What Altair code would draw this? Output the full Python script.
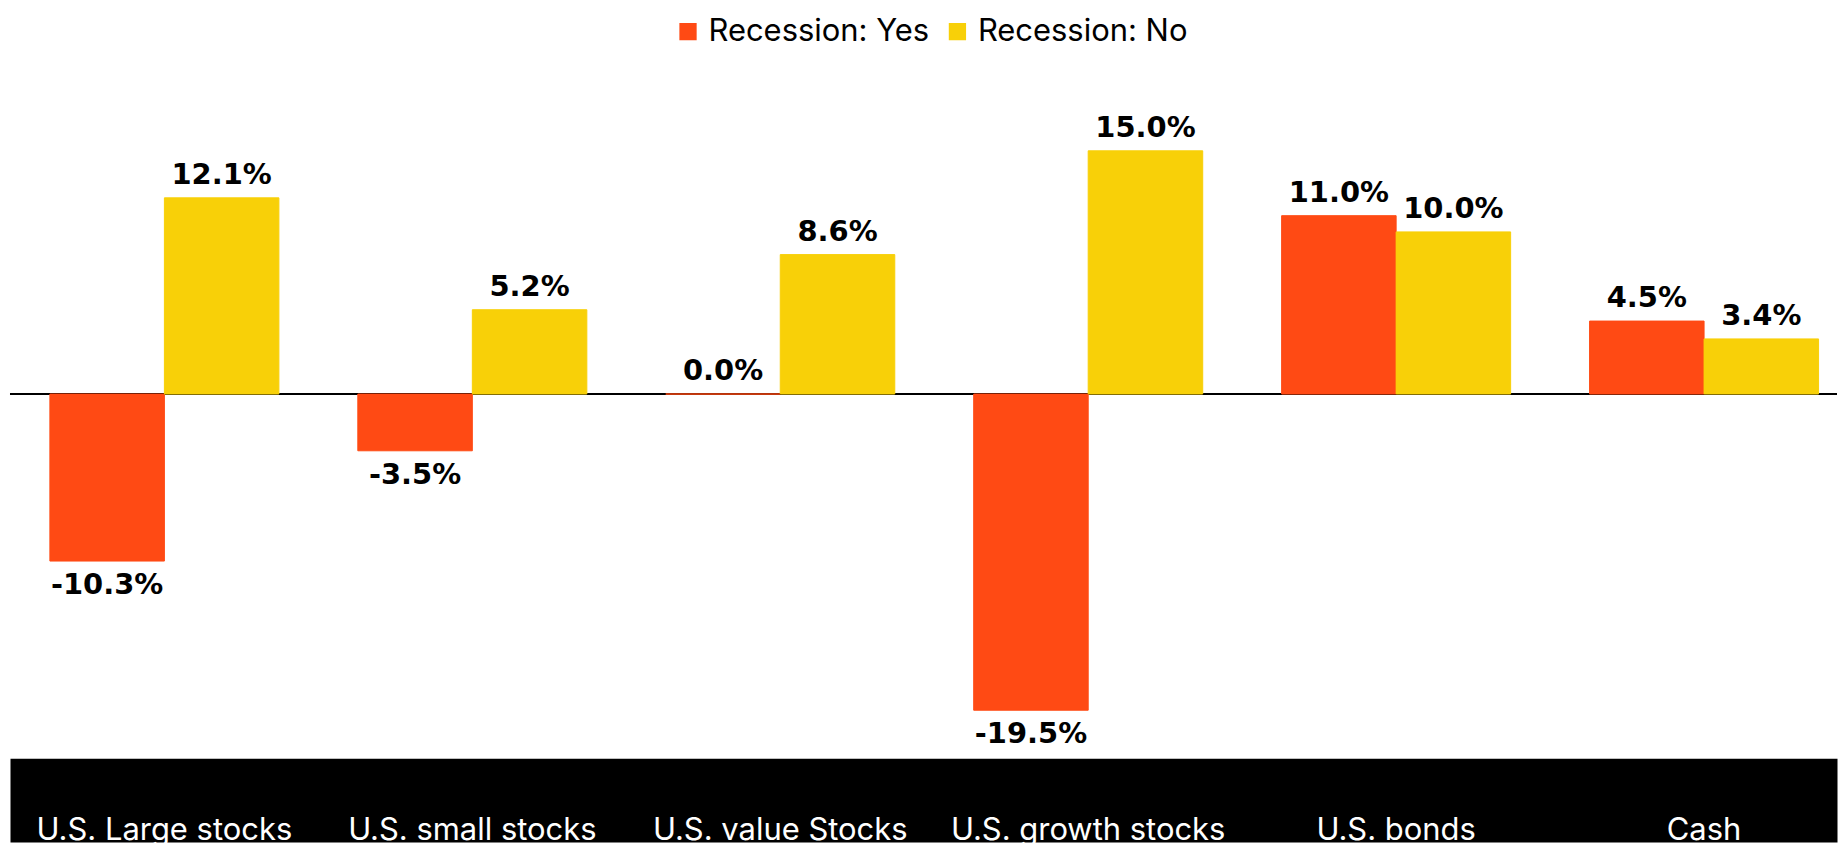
import altair as alt
import pandas as pd

categories = ["U.S. Large stocks", "U.S. small stocks", "U.S. value Stocks",
              "U.S. growth stocks", "U.S. bonds", "Cash"]
series = ["Recession: Yes", "Recession: No"]
recession_yes = [-10.3, -3.5, 0.0, -19.5, 11.0, 4.5]
recession_no = [12.1, 5.2, 8.6, 15.0, 10.0, 3.4]
colors = ["#FF4A14", "#F8D008"]

rows = []
for c, vy, vn in zip(categories, recession_yes, recession_no):
    rows.append({"category": c, "series": series[0], "value": vy, "label": f"{vy:.1f}%"})
    rows.append({"category": c, "series": series[1], "value": vn, "label": f"{vn:.1f}%"})
df = pd.DataFrame(rows)
cat_df = pd.DataFrame({"category": categories})
zero_df = pd.DataFrame({"value": [0.0]})

W = 1831
x_scale = alt.Scale(type="band", paddingInner=0.2563, paddingOuter=0.0947, align=0.684)
y_scale = alt.Scale(domain=[-22.34, 23.69], nice=False, zero=False)

x_enc = alt.X("category:N", sort=categories, axis=None, scale=x_scale)
xo_enc = alt.XOffset("series:N", sort=series, scale=alt.Scale(paddingInner=0, paddingOuter=0))
y_enc = alt.Y("value:Q", axis=None, scale=y_scale)

rule = alt.Chart(zero_df).mark_rule(color="black", strokeWidth=2).encode(y=y_enc)

base = alt.Chart(df)
bars = base.mark_bar(strokeWidth=1).encode(
    x=x_enc,
    xOffset=xo_enc,
    y=y_enc,
    color=alt.Color(
        "series:N", sort=series,
        scale=alt.Scale(domain=series, range=colors),
        legend=alt.Legend(
            title=None, orient="none", direction="horizontal",
            legendX=664, legendY=6,
            symbolType="square", symbolSize=300, symbolStrokeWidth=0,
            labelFont="Inter", labelFontSize=31, labelColor="black",
            labelOffset=5, columnPadding=12, labelLimit=500,
        ),
    ),
    stroke=alt.Stroke("series:N", sort=series,
                      scale=alt.Scale(domain=series, range=colors), legend=None),
)

pos_labels = base.transform_filter("datum.value >= 0").mark_text(
    font="DejaVu Sans", fontWeight="bold", fontSize=29, color="black",
    baseline="alphabetic", dy=-14,
).encode(x=x_enc, xOffset=xo_enc, y=y_enc, text="label:N")

neg_labels = base.transform_filter("datum.value < 0").mark_text(
    font="DejaVu Sans", fontWeight="bold", fontSize=29, color="black",
    baseline="top", dy=10,
).encode(x=x_enc, xOffset=xo_enc, y=y_enc, text="label:N")

top = alt.layer(rule, bars, pos_labels, neg_labels).properties(width=W, height=748)

bottom = alt.Chart(cat_df).mark_text(
    font="Inter", fontSize=31, color="white", baseline="alphabetic",
).encode(
    x=alt.X("category:N", sort=categories, axis=None, scale=x_scale),
    y=alt.value(82),
    text="category:N",
).properties(width=W, height=84,
             view=alt.ViewBackground(fill="black", stroke="transparent"))

chart = alt.vconcat(top, bottom, spacing=0).properties(
    padding=0
).configure_view(stroke="transparent")

chart.save("out.html", embed_options={"renderer": "svg", "actions": False})
